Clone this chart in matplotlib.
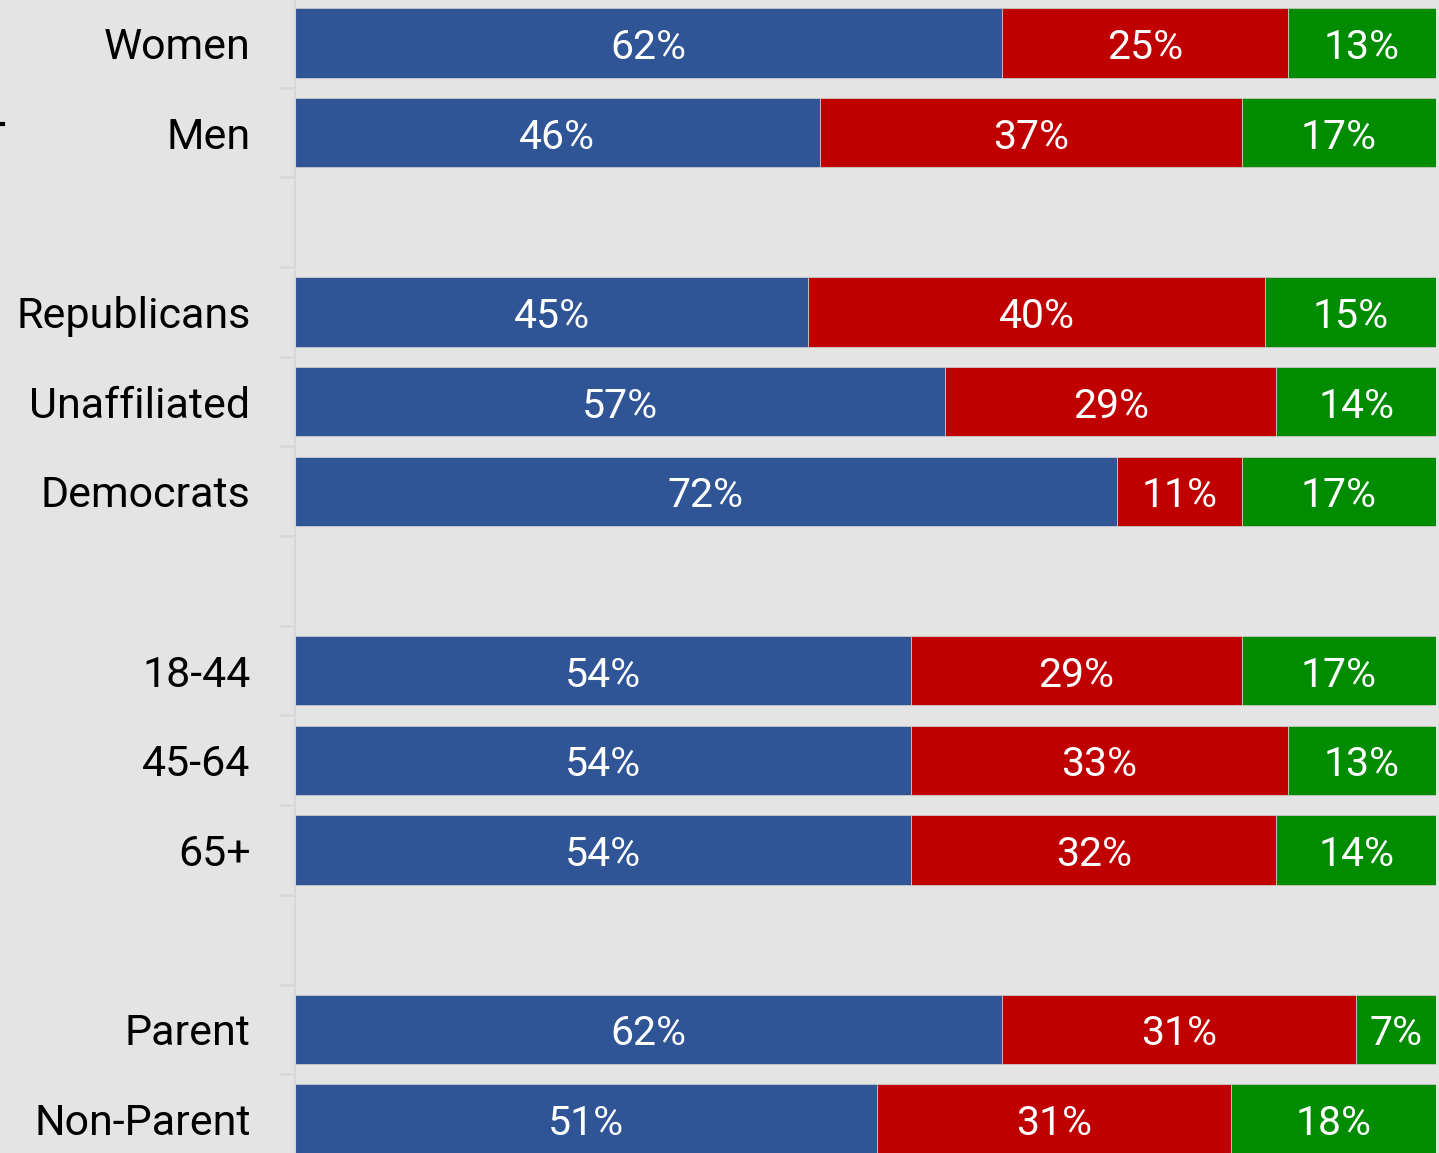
import matplotlib
matplotlib.use("Agg")
import matplotlib.pyplot as plt
from matplotlib.lines import Line2D
import numpy as np

categories = ["Women", "Men", "", "Republicans", "Unaffiliated", "Democrats", "",
              "18-44", "45-64", "65+", "", "Parent", "Non-Parent"]
blue_vals = [62, 46, None, 45, 57, 72, None, 54, 54, 54, None, 62, 51]
red_vals = [25, 37, None, 40, 29, 11, None, 29, 33, 32, None, 31, 31]
green_vals = [13, 17, None, 15, 14, 17, None, 17, 13, 14, None, 7, 18]

colors = ["#2F5597", "#C00000", "#008C00"]
bg = "#e4e4e4"

plt.rcParams['font.family'] = ['Roboto', 'DejaVu Sans']

fig = plt.figure(figsize=(14.39, 11.53), dpi=100, facecolor=bg)
ax = fig.add_axes([295/1439, -0.0094, (1436-295)/1439, 1.0110])
ax.set_facecolor(bg)

n = len(categories)
ypos = np.arange(n)
for i in range(n):
    if blue_vals[i] is None:
        continue
    vals = [blue_vals[i], red_vals[i], green_vals[i]]
    left = 0
    for v, c in zip(vals, colors):
        ax.barh(i, v, left=left, height=0.77, color=c, edgecolor="#c8c8c8", linewidth=0.6)
        ax.text(left + v/2, i + 0.05, f"{v}%", color="white", fontsize=29.5,
                ha="center", va="center")
        left += v

ax.set_xlim(0, 100)
ax.set_ylim(n - 0.5, -0.5)
ax.set_yticks(ypos)
ax.set_yticklabels(categories, fontsize=31, color="black")
ax.tick_params(axis="y", which="major", length=0, pad=32)
ax.set_yticks(np.arange(n + 1) - 0.5, minor=True)
ax.tick_params(axis="y", which="minor", length=11, width=2, color="#d8d8d8")
ax.set_xticks([])
for s in ["top", "right", "bottom"]:
    ax.spines[s].set_visible(False)
ax.spines["left"].set_color("#d8d8d8")
ax.spines["left"].set_linewidth(1.5)

fig.add_artist(Line2D([0, 2.5/1439], [1 - 124/1153, 1 - 124/1153],
                      transform=fig.transFigure, color="black", linewidth=3))

fig.savefig("out.png", dpi=100, facecolor=bg)
